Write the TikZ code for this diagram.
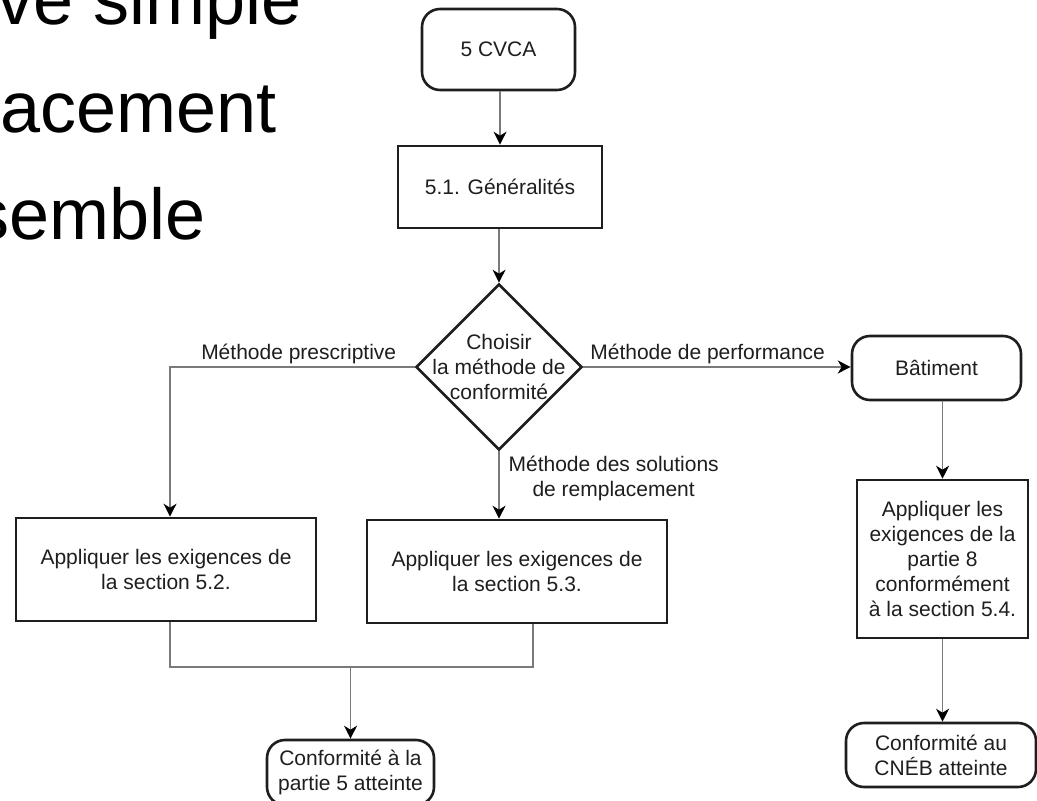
\documentclass[tikz,border=0pt]{standalone}
\usepackage{fontspec}
\setmainfont{Liberation Sans}
\usetikzlibrary{arrows.meta,shapes.geometric}
\definecolor{ink}{HTML}{1E1E1E}
\definecolor{wire}{HTML}{7A7A7A}
\newcommand{\flowfont}{\fontsize{10.5}{12.5}\selectfont}

\begin{document}
\begin{tikzpicture}[x=0.5pt,y=-0.5pt,
    every node/.style={font=\flowfont,text=ink},
    termbox/.style={draw=ink,line width=1.3pt,rounded corners=9pt,align=center,inner sep=0pt},
    procbox/.style={draw=ink,line width=1.3pt,rectangle,align=center,inner sep=0pt},
    choicebox/.style={draw=ink,line width=1.3pt,diamond,inner sep=0pt,minimum width=83pt,minimum height=83pt},
    wireline/.style={draw=wire,line width=0.6pt},
    flow/.style={wireline,-{Stealth[length=6.5pt,width=6.5pt,inset=2pt,color=black]}},
    slidetext/.style={font=\fontsize{36}{43}\selectfont,text=black,anchor=base west,inner sep=0pt}]
    \useasboundingbox (0,0) rectangle (1037,801);
    \node[slidetext] (slideA) at (-3,25) {ve simple};
    \node[slidetext] (slideB) at (0,133) {acement};
    \node[slidetext] (slideC) at (-27,240) {semble};

    \node[termbox,minimum width=76.5pt,minimum height=40.5pt] (cvca) at (498.5,49.5) {5 CVCA};
    \node[procbox,minimum width=102pt,minimum height=41pt] (gen) at (500,187) {5.1. Généralités};
    \node[choicebox,label={[align=center,font=\flowfont,text=ink]center:{Choisir\\la méthode de\\conformité}}] (choice) at (499,367) {};
    \node[termbox,minimum width=84.5pt,minimum height=32pt] (bat) at (936.5,368) {Bâtiment};
    \node[procbox,minimum width=150pt,minimum height=51.5pt] (presc) at (166,569.5) {Appliquer les exigences de\\la section 5.2.};
    \node[procbox,minimum width=150pt,minimum height=51.5pt] (alt) at (517,571.5) {Appliquer les exigences de\\la section 5.3.};
    \node[procbox,minimum width=85.5pt,minimum height=79pt] (perf) at (942.5,559) {Appliquer les\\exigences de la\\partie 8\\conformément\\à la section 5.4.};
    \node[termbox,minimum width=83.5pt,minimum height=32.5pt] (part5) at (350.5,772.5) {Conformité à la\\partie 5 atteinte};
    \node[termbox,minimum width=95pt,minimum height=32pt] (cneb) at (941,755) {Conformité au\\CNÉB atteinte};
    \coordinate (merge) at (350.5,667);

    \draw[flow] (cvca.south -| gen.north) -- (gen.north);
    \draw[flow] (gen.south -| choice.north) -- (choice.north);
    \draw[flow] (choice.west) -| ([xshift=2pt]presc.north)
        node[pos=0.237,above,inner sep=1.5pt] {Méthode prescriptive};
    \draw[flow] (choice.east) -- (choice.east -| bat.west)
        node[pos=0.465,above,inner sep=1.5pt] {Méthode de performance};
    \draw[flow] (choice.south) -- (choice.south |- alt.north)
        node[pos=0.4,right=4.5pt,inner sep=0pt,align=center] {Méthode des solutions\\de remplacement};
    \draw[flow] (perf.north |- bat.south) -- (perf.north);
    \draw[flow] (perf.south) -- (perf.south |- cneb.north);
    \draw[wireline] ([xshift=2pt]presc.south) |- (merge) -| ([xshift=8pt]alt.south);
    \draw[flow] (merge) -- (part5.north);
\end{tikzpicture}
\end{document}
